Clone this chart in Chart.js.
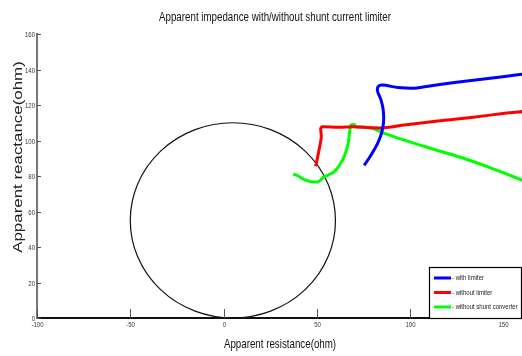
<!DOCTYPE html>
<html>
<head>
<meta charset="utf-8">
<script src="https://cdn.jsdelivr.net/npm/chart.js@4"></script>
<style>
  html, body { margin: 0; padding: 0; background: #fff; }
  #wrap { width: 522px; height: 356px; }
</style>
</head>
<body>
<div id="wrap"><canvas id="c" width="522" height="356"></canvas></div>
<script>
// Apparent impedance trajectories (R, X in ohm)
const withLimiterR    = [75.4, 79.0, 82.6, 84.9, 85.8, 85.6, 84.4, 82.6, 82.9, 85.3, 93.4, 102.3, 114.9, 132.8, 150.8, 160.3];
const withLimiterX    = [86.0, 91.7, 98.4, 104.9, 110.6, 117.2, 122.9, 127.6, 130.4, 131.2, 129.9, 129.5, 131.4, 133.8, 136.1, 137.4];

const withoutLimiterR = [49.4, 51.2, 52.4, 52.1, 53.0, 61.0, 70.0, 79.0, 86.2, 96.9, 114.9, 132.8, 150.8, 160.3];
const withoutLimiterX = [85.5, 94.6, 102.1, 106.8, 107.8, 107.4, 107.8, 107.2, 107.2, 108.7, 111.0, 113.0, 115.3, 116.3];

const noShuntR        = [37.4, 39.5, 43.1, 50.3, 53.9, 59.2, 63.8, 66.8, 67.7, 68.2, 70.0, 70.9, 79.0, 86.2, 96.9, 111.3, 127.5, 141.8, 160.3];
const noShuntX        = [81.0, 80.4, 78.0, 76.6, 79.5, 82.3, 88.9, 98.4, 105.9, 108.7, 109.1, 107.8, 107.2, 104.0, 100.2, 95.5, 90.4, 85.1, 77.6];

// Relay characteristic circle: centre (R, X) and radius
const circleCentre = [5, 55];
const circleRadius = [55];

const xTicks = [-100, -50, 0, 50, 100, 150];
const yTicks = [0, 20, 40, 60, 80, 100, 120, 140, 160];

const seriesLabels = ['- with limiter', '- without limiter', '- without shunt converter'];
const seriesColors = ['#0000ff', '#ff0000', '#00ff00'];

const titleText  = 'Apparent impedance with/without shunt current limiter';
const xTitleText = 'Apparent resistance(ohm)';
const yTitleText = 'Apparent reactance(ohm)';

const pairs = (xs, ys) => xs.map((x, i) => ({ x: x, y: ys[i] }));

const SANS = '"Liberation Sans", Arial, sans-serif';
const NARROW = 0.75; // horizontal squeeze for the condensed label face

// Text helper: draws text horizontally scaled by sx (rotation optional)
function drawText(ctx, text, x, y, size, sx, align, baseline, color, rot) {
  ctx.save();
  ctx.translate(x, y);
  if (rot) ctx.rotate(rot);
  ctx.scale(sx, 1);
  ctx.font = size + 'px ' + SANS;
  ctx.textAlign = align;
  ctx.textBaseline = baseline;
  ctx.fillStyle = color;
  ctx.fillText(text, 0, 0);
  ctx.restore();
}

// Draws the impedance circle through the axis scales
const circlePlugin = {
  id: 'circle',
  beforeDatasetsDraw(chart) {
    const { ctx, scales: { x, y } } = chart;
    const cx = x.getPixelForValue(circleCentre[0]);
    const cy = y.getPixelForValue(circleCentre[1]);
    const rx = Math.abs(x.getPixelForValue(circleCentre[0] + circleRadius[0]) - cx);
    const ry = Math.abs(y.getPixelForValue(circleCentre[1] + circleRadius[0]) - cy);
    ctx.save();
    ctx.beginPath();
    ctx.ellipse(cx, cy, rx, ry, 0, 0, Math.PI * 2);
    ctx.strokeStyle = '#111';
    ctx.lineWidth = 1.2;
    ctx.stroke();
    ctx.restore();
  }
};

// Axes decorations: inward ticks, tick labels, axis titles and chart title
const axesText = {
  id: 'axesText',
  afterDraw(chart) {
    const { ctx, chartArea: a, scales: { x, y } } = chart;
    ctx.save();
    ctx.strokeStyle = '#555';
    ctx.lineWidth = 1;
    xTicks.forEach(v => {
      const px = Math.round(x.getPixelForValue(v)) + 0.5;
      ctx.beginPath(); ctx.moveTo(px, a.bottom); ctx.lineTo(px, a.bottom - 9); ctx.stroke();
      drawText(ctx, String(v), px, a.bottom + 3, 8, NARROW, 'center', 'top', '#333');
    });
    yTicks.forEach(v => {
      const py = Math.round(y.getPixelForValue(v)) + 0.5;
      ctx.beginPath(); ctx.moveTo(a.left, py); ctx.lineTo(a.left + 4, py); ctx.stroke();
      drawText(ctx, String(v), a.left - 2, py, 8, NARROW, 'right', 'middle', '#333');
    });
    ctx.restore();

    drawText(ctx, titleText, 275, 21, 13, NARROW, 'center', 'alphabetic', '#111');
    drawText(ctx, xTitleText, 280, 348, 13, NARROW, 'center', 'alphabetic', '#111');
    drawText(ctx, yTitleText, 22, 157, 13, 1.3, 'center', 'alphabetic', '#222', -Math.PI / 2);
  }
};

// Boxed legend in the lower-right corner of the plot
const boxLegend = {
  id: 'boxLegend',
  afterDraw(chart) {
    const { ctx, chartArea: a } = chart;
    const left = 429, top = 267, w = a.right - left, h = a.bottom - top;
    ctx.save();
    ctx.fillStyle = '#fff';
    ctx.fillRect(left, top, w, h);
    ctx.strokeStyle = '#000';
    ctx.lineWidth = 1.2;
    ctx.strokeRect(left + 0.5, top + 0.5, w - 1, h);
    seriesLabels.forEach((lab, i) => {
      const yy = top + 11 + i * 14.5;
      ctx.strokeStyle = seriesColors[i];
      ctx.lineWidth = 3;
      ctx.beginPath(); ctx.moveTo(left + 5, yy); ctx.lineTo(left + 22, yy); ctx.stroke();
      drawText(ctx, lab, left + 23, yy, 8, NARROW, 'left', 'middle', '#222');
    });
    ctx.restore();
  }
};

const mkSet = (i, xs, ys) => ({
  label: seriesLabels[i],
  data: pairs(xs, ys),
  borderColor: seriesColors[i],
  backgroundColor: seriesColors[i],
  borderWidth: 3,
  pointRadius: 0,
  tension: 0.25,
  showLine: true,
  fill: false
});

new Chart(document.getElementById('c'), {
  type: 'scatter',
  data: {
    datasets: [
      mkSet(0, withLimiterR, withLimiterX),
      mkSet(1, withoutLimiterR, withoutLimiterX),
      mkSet(2, noShuntR, noShuntX)
    ]
  },
  options: {
    responsive: false,
    animation: false,
    devicePixelRatio: 1,
    layout: { padding: { left: 37, right: 0, top: 34, bottom: 38 } },
    plugins: {
      legend: { display: false },
      tooltip: { enabled: false },
      title: { display: false }
    },
    scales: {
      x: {
        type: 'linear',
        min: -100,
        max: 160,
        afterBuildTicks(s) { s.ticks = xTicks.map(v => ({ value: v })); },
        grid: { display: true, drawOnChartArea: false, drawTicks: false, tickLength: 0 },
        border: { display: true, color: '#111', width: 2 },
        ticks: { display: false }
      },
      y: {
        type: 'linear',
        min: 0,
        max: 160,
        afterBuildTicks(s) { s.ticks = yTicks.map(v => ({ value: v })); },
        grid: { display: true, drawOnChartArea: false, drawTicks: false, tickLength: 0 },
        border: { display: true, color: '#777', width: 2 },
        ticks: { display: false }
      }
    }
  },
  plugins: [circlePlugin, axesText, boxLegend]
});
</script>
</body>
</html>
